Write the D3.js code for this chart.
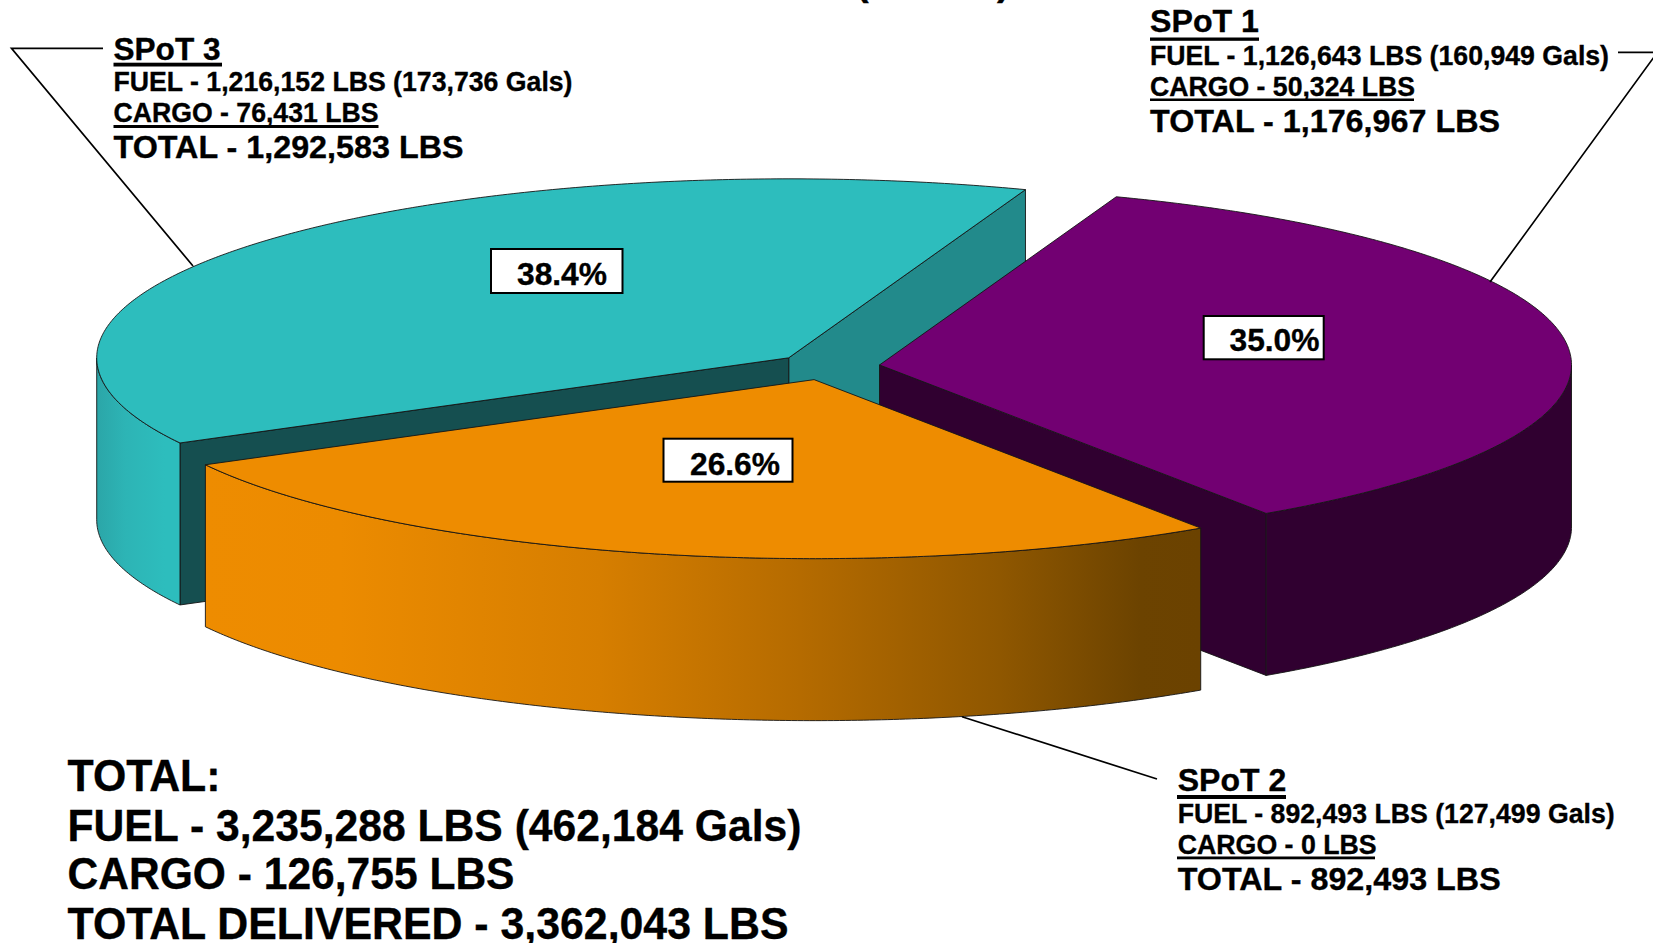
<!DOCTYPE html>
<html>
<head>
<meta charset="utf-8">
<script src="https://cdnjs.cloudflare.com/ajax/libs/d3/7.8.5/d3.min.js"></script>
<style>
html,body{margin:0;padding:0;background:#fff;overflow:hidden}
text{font-family:"Liberation Sans",Arial,sans-serif;font-weight:bold;fill:#000;stroke:#000;stroke-width:0.35px}
</style>
</head>
<body>
<svg id="c" width="1653" height="943"></svg>
<script>
// Data
const spots = ["SPoT 3", "SPoT 1", "SPoT 2"];
const fuelLbs = ["1,216,152", "1,126,643", "892,493"];
const fuelGals = ["173,736", "160,949", "127,499"];
const cargoLbs = ["76,431", "50,324", "0"];
const totalLbs = [1292583, 1176967, 892493];
const percentLabels = ["38.4%", "35.0%", "26.6%"];
const summaryLines = ["TOTAL:", "FUEL - 3,235,288 LBS (462,184 Gals)", "CARGO - 126,755 LBS", "TOTAL DELIVERED - 3,362,043 LBS"];

// Presentation
const topCol = ["#2DBDBD", "#720072", "#EE8C00"];
const sliceNudge = [0, 0, -1.5];
const cx = 828, cy = 366.6, rx = 692, ry = 179, depth = 162, explode = 0.075;
const rad = d => d * Math.PI / 180;
const svg = d3.select("#c");

const defs = svg.append("defs");
function grad(id, stops) {
  const g = defs.append("linearGradient").attr("id", id).attr("gradientUnits", "userSpaceOnUse")
    .attr("x1", stops[0][0]).attr("x2", stops[stops.length - 1][0]).attr("y1", 0).attr("y2", 0);
  const a = stops[0][0], b = stops[stops.length - 1][0];
  stops.forEach(s => g.append("stop").attr("offset", (s[0] - a) / (b - a)).attr("stop-color", s[1]));
}
grad("wallTeal", [[97, "#2BA6A8"], [125, "#2DB4B5"], [165, "#2DBDBD"]]);
grad("wallOrange", [[205, "#EE8C00"], [340, "#EC8B00"], [600, "#D67E00"], [800, "#B56B00"], [1000, "#8F5700"], [1140, "#6C4300"], [1201, "#6B4200"]]);

const pie = d3.pie().sort(null).value(d => d)
  .startAngle(rad(241.6)).endAngle(rad(241.6 + 360));
const arcs = pie(totalLbs);
const line = d3.line();

function pt(c, a, dy = 0) { return [c[0] + rx * Math.sin(a), c[1] - ry * Math.cos(a) + dy]; }
function apex(d, i) {
  const m = (d.startAngle + d.endAngle) / 2;
  return [cx + explode * rx * Math.sin(m) + sliceNudge[i], cy - explode * ry * Math.cos(m)];
}
function sweep(a0, a1) {
  const n = Math.max(2, Math.ceil(Math.abs(a1 - a0) / rad(0.5)));
  return d3.range(n + 1).map(i => a0 + (a1 - a0) * i / n);
}
const edgeCol = "#151515", edgeW = 0.9;
function shape(pts, fill) {
  svg.append("path").attr("d", line(pts) + "Z").attr("fill", fill)
    .attr("stroke", edgeCol).attr("stroke-width", edgeW).attr("stroke-linejoin", "round");
}
function wall(c, a0, a1, fill) {
  const as = sweep(a0, a1);
  shape(as.map(a => pt(c, a)).concat(as.slice().reverse().map(a => pt(c, a, depth))), fill);
}
function cut(c, a, fill) {
  const r = pt(c, a);
  shape([c, r, [r[0], r[1] + depth], [c[0], c[1] + depth]], fill);
}
function topFace(c, d, fill) {
  shape([c].concat(sweep(d.startAngle, d.endAngle).map(a => pt(c, a))), fill);
}

// SPoT 3
const c0 = apex(arcs[0], 0);
cut(c0, arcs[0].endAngle, "#228A8B");
cut(c0, arcs[0].startAngle, "#154F50");
wall(c0, arcs[0].startAngle, rad(270), "url(#wallTeal)");
topFace(c0, arcs[0], topCol[0]);
// SPoT 1
const c1 = apex(arcs[1], 1);
cut(c1, arcs[1].endAngle, "#300030");
wall(c1, rad(450), arcs[1].endAngle, "#300030");
topFace(c1, arcs[1], topCol[1]);
// SPoT 2
const c2 = apex(arcs[2], 2);
wall(c2, arcs[2].startAngle, arcs[2].endAngle, "url(#wallOrange)");
topFace(c2, arcs[2], topCol[2]);

// Leader lines
const leaders = [
  [[103, 48.3], [11.5, 48.3], [193, 266]],
  [[1618, 52.3], [1657.4, 52.3], [1490, 282]],
  [[962, 716.7], [1157, 779]]
];
leaders.forEach(l => svg.append("path").attr("d", line(l)).attr("fill", "none")
  .attr("stroke", "#000").attr("stroke-width", 1.7));

// Text helper
function txt(x, y, s, size, tl) {
  const t = svg.append("text").attr("x", x).attr("y", y).attr("font-size", size).text(s);
  if (tl) t.attr("textLength", tl).attr("lengthAdjust", "spacingAndGlyphs");
  return t;
}
function rule(x0, x1, y0, y1) {
  svg.append("rect").attr("x", x0).attr("y", y0).attr("width", x1 - x0).attr("height", y1 - y0).attr("fill", "#000");
}

// Callouts
const callouts = [
  { i: 0, x: 113.5, b: [59.5, 90.7, 122, 157.7], w: [107, 459, 265, 350], u1: [113.5, 222, 62.7, 66.5], u2: [113.5, 378.5, 125, 128] },
  { i: 1, x: 1150, b: [32.3, 65, 96, 131.7], w: [109, 459, 265, 350], u1: [1150, 1259, 37.5, 40.8], u2: [1150, 1414, 98.5, 101] },
  { i: 2, x: 1177.7, b: [790.7, 823.3, 854, 890], w: [108.5, 437, 199, 323], u1: [1177, 1286, 795, 799], u2: [1177, 1375, 856.5, 859.3] }
];
callouts.forEach(o => {
  const i = o.i;
  txt(o.x, o.b[0], spots[i], 32, o.w[0]);
  txt(o.x, o.b[1], `FUEL - ${fuelLbs[i]} LBS (${fuelGals[i]} Gals)`, 27.5, o.w[1]);
  txt(o.x, o.b[2], `CARGO - ${cargoLbs[i]} LBS`, 27.5, o.w[2]);
  txt(o.x, o.b[3], `TOTAL - ${d3.format(",")(totalLbs[i])} LBS`, 32, o.w[3]);
  rule(...o.u1); rule(...o.u2);
});

// Percent boxes
const boxes = [
  { b: [491, 249, 131.5, 44], x: 517, y: 285 },
  { b: [1203.7, 316, 120, 43.3], x: 1229.5, y: 350.7 },
  { b: [663.5, 438.7, 129, 43], x: 690, y: 475 }
];
boxes.forEach((o, i) => {
  svg.append("rect").attr("x", o.b[0]).attr("y", o.b[1]).attr("width", o.b[2]).attr("height", o.b[3])
    .attr("fill", "#fff").attr("stroke", "#000").attr("stroke-width", 2);
  txt(o.x, o.y, percentLabels[i], 32, 90);
});

// Summary block
const sumB = [791, 841, 889, 938.5], sumW = [153, 734, 447, 721];
summaryLines.forEach((s, i) => txt(67.5, sumB[i], s, 44, sumW[i]));

// Title: only the tails of its brackets remain inside the frame
txt(856, -5, "(", 38);
txt(997, -5, ")", 38);
</script>
</body>
</html>
